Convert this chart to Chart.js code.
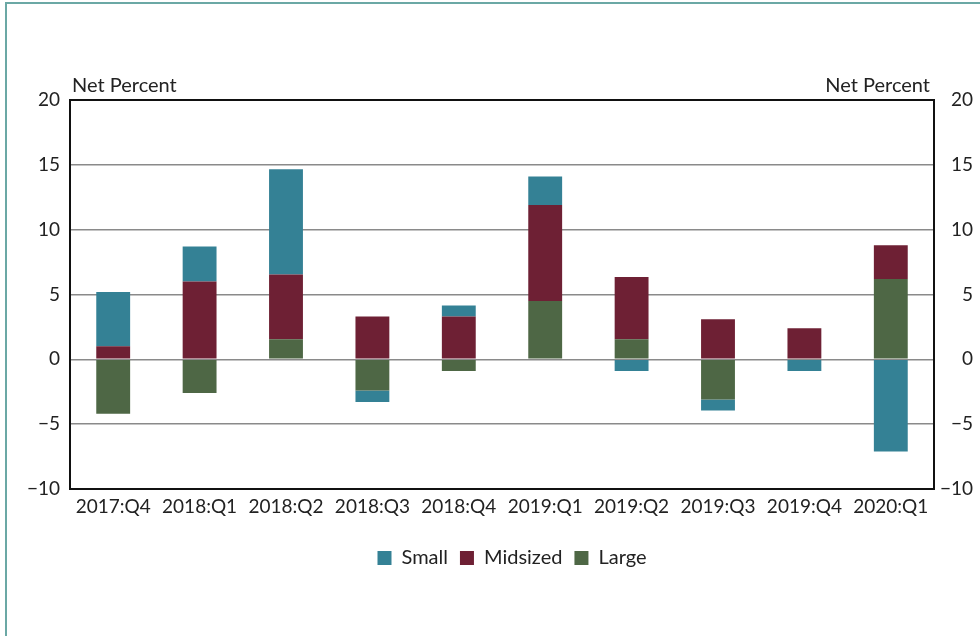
<!DOCTYPE html>
<html>
<head>
<meta charset="utf-8">
<script src="https://cdn.jsdelivr.net/npm/chart.js@4.4.1/dist/chart.umd.min.js"></script>
<style>
  html, body { margin: 0; padding: 0; background: #fff; }
  #wrap { position: relative; width: 980px; height: 636px; }
  #frame { position: absolute; left: 5px; top: 2px; width: 975px; height: 640px;
           border-left: 2px solid #6ba8a5; border-top: 2px solid #6ba8a5; box-sizing: border-box; }
  canvas { position: absolute; left: 0; top: 0; }
</style>
</head>
<body>
<div id="wrap">
  <div id="frame"></div>
  <canvas id="c" width="980" height="636"></canvas>
</div>
<script>
const categories = ["2017:Q4","2018:Q1","2018:Q2","2018:Q3","2018:Q4","2019:Q1","2019:Q2","2019:Q3","2019:Q4","2020:Q1"];
const small    = [4.2, 2.7, 8.1, -0.9, 0.85, 2.2, -0.9, -0.85, -0.9, -7.1];
const midsized = [1.0, 6.0, 5.0, 3.3, 3.3, 7.4, 4.8, 3.1, 2.4, 2.6];
const large    = [-4.2, -2.6, 1.55, -2.4, -0.9, 4.5, 1.55, -3.1, 0, 6.2];
const yTicks   = [-10, -5, 0, 5, 10, 15, 20];
const axisTitle = "Net Percent";

const FONT = "Lato, 'Open Sans', sans-serif";
const TXT = "#222";
const fmt = v => (v < 0 ? "\u2212" + Math.abs(v) : String(v));

const titlePlugin = {
  id: 'netPercent',
  afterLayout(chart) {
    // center the legend under the plot area rather than the whole canvas
    const lg = chart.legend, a = chart.chartArea;
    if (lg) {
      const shift = (a.left + a.right) / 2 - (lg.left + lg.right) / 2 + 10;
      lg.left += shift; lg.right += shift;
    }
  },
  afterDraw(chart) {
    const ctx = chart.ctx, a = chart.chartArea;
    ctx.save();
    ctx.font = "20px " + FONT;
    ctx.fillStyle = TXT;
    ctx.textBaseline = "bottom";
    ctx.textAlign = "left";
    ctx.fillText(axisTitle, a.left + 2, a.top - 4);
    ctx.textAlign = "right";
    ctx.fillText(axisTitle, a.right - 4, a.top - 4);
    ctx.restore();
  }
};

new Chart(document.getElementById('c'), {
  type: 'bar',
  data: {
    labels: categories,
    datasets: [
      { label: 'Large', data: large, backgroundColor: '#4e6745', stack: 's' },
      { label: 'Midsized', data: midsized, backgroundColor: '#6e2034', stack: 's' },
      { label: 'Small', data: small, backgroundColor: '#348195', stack: 's' }
    ]
  },
  options: {
    responsive: false,
    animation: false,
    devicePixelRatio: 1,
    categoryPercentage: 0.8,
    barPercentage: 0.49,
    layout: { padding: { top: 100, bottom: 58, left: 8, right: 7 } },
    plugins: {
      legend: {
        position: 'bottom',
        reverse: true,
        labels: { font: { family: FONT, size: 20 }, color: TXT, boxWidth: 14, boxHeight: 14, padding: 12 }
      },
      tooltip: { enabled: false }
    },
    scales: {
      x: {
        stacked: true,
        grid: { display: false, drawTicks: false },
        border: { display: true, color: '#111', width: 2 },
        ticks: { font: { family: FONT, size: 19 }, color: TXT, padding: 6, maxRotation: 0, autoSkip: false },
        afterFit(s) { s.height = 47; }
      },
      y: {
        stacked: true,
        position: 'left',
        min: -10, max: 20,
        afterBuildTicks(s) { s.ticks = yTicks.map(v => ({ value: v })); },
        grid: {
          color: ctx => (ctx.tick && ctx.tick.value === 20) ? '#111' : '#8a8a8a',
          lineWidth: ctx => (ctx.tick && ctx.tick.value === 20) ? 2 : 1.5,
          drawTicks: false
        },
        border: { display: true, color: '#111', width: 2 },
        ticks: { font: { family: FONT, size: 19 }, color: TXT, padding: 10, callback: fmt },
        afterFit(s) { s.width = 62; }
      },
      y2: {
        position: 'right',
        min: -10, max: 20,
        afterBuildTicks(s) { s.ticks = yTicks.map(v => ({ value: v })); },
        grid: { display: false, drawTicks: false },
        border: { display: true, color: '#111', width: 2 },
        ticks: { font: { family: FONT, size: 19 }, color: TXT, padding: 8, crossAlign: 'far', callback: fmt },
        afterFit(s) { s.width = 39; }
      }
    }
  },
  plugins: [titlePlugin]
});
</script>
</body>
</html>
